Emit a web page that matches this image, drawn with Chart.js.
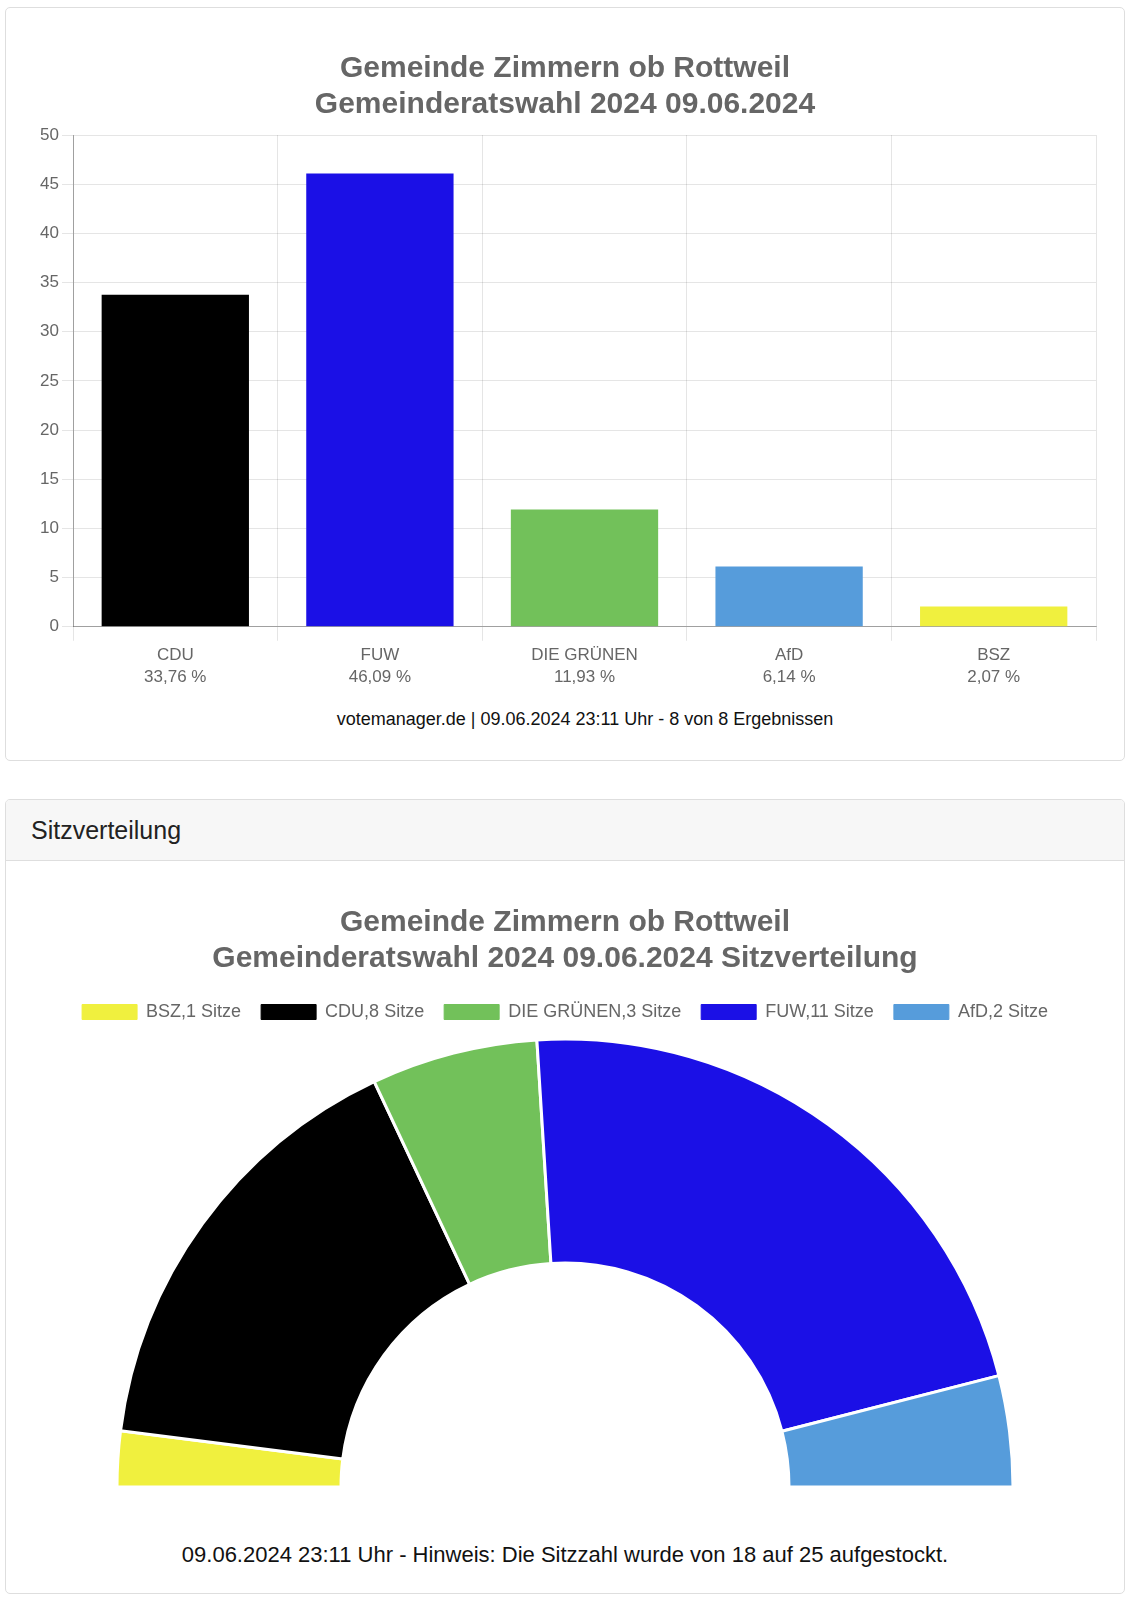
<!DOCTYPE html>
<html><head><meta charset="utf-8">
<script src="https://cdn.jsdelivr.net/npm/chart.js@4.4.1/dist/chart.umd.min.js"></script>
<style>
body{margin:0;background:#fff;font-family:'Liberation Sans',Arial,sans-serif;}
.card{position:absolute;left:5px;width:1118px;border:1px solid #dedede;border-radius:5px;background:#fff;overflow:hidden}
#card1{top:7px;height:752px;}
#card2{top:799px;height:793px;}
.hdr{height:60px;background:#f7f7f7;border-bottom:1px solid #dedede;font-size:25px;color:#222;line-height:60px;padding-left:25px;}
canvas{display:block}
.foot{position:absolute;left:0;width:100%;text-align:center;font-size:18px;line-height:20px;color:#111}
</style></head>
<body>
<div class="card" id="card1">
  <canvas id="bar" width="1118" height="690"></canvas>
  <div class="foot" style="top:701px;left:20px">votemanager.de | 09.06.2024 23:11 Uhr - 8 von 8 Ergebnissen</div>
</div>
<div class="card" id="card2">
  <div class="hdr">Sitzverteilung</div>
  <canvas id="seats" width="1118" height="660"></canvas>
  <div class="foot" style="top:743px;font-size:22px;line-height:24px">09.06.2024 23:11 Uhr - Hinweis: Die Sitzzahl wurde von 18 auf 25 aufgestockt.</div>
</div>
<script>
const barLabels = ['CDU', 'FUW', 'DIE GRÜNEN', 'AfD', 'BSZ'];
const barPercentTexts = ['33,76 %', '46,09 %', '11,93 %', '6,14 %', '2,07 %'];
const barValues = [33.76, 46.09, 11.93, 6.14, 2.07];
const barColors = ['#000000', '#1b10e6', '#72c15a', '#569cdb', '#f0f03e'];
const yMax = 50;
const yStep = 5;

const seatParties = ['BSZ', 'CDU', 'DIE GRÜNEN', 'FUW', 'AfD'];
const seatCounts = [1, 8, 3, 11, 2];
const seatColors = ['#f0f03e', '#000000', '#72c15a', '#1b10e6', '#569cdb'];

const barTitle = ['Gemeinde Zimmern ob Rottweil', 'Gemeinderatswahl 2024 09.06.2024'];
const seatTitle = ['Gemeinde Zimmern ob Rottweil', 'Gemeinderatswahl 2024 09.06.2024 Sitzverteilung'];

Chart.defaults.font.family = "'Liberation Sans', Arial, Helvetica, sans-serif";
Chart.defaults.color = '#666';

new Chart(document.getElementById('bar'), {
  type: 'bar',
  data: {
    labels: barLabels.map((l, i) => [l, barPercentTexts[i]]),
    datasets: [{ data: barValues, backgroundColor: barColors, borderWidth: 0 }]
  },
  options: {
    responsive: false,
    animation: false,
    layout: { padding: { left: 28, right: 28, top: 0, bottom: 7 } },
    plugins: {
      legend: { display: false },
      tooltip: { enabled: false },
      title: {
        display: true, text: barTitle, color: '#666',
        font: { size: 30, weight: 'bold', lineHeight: 1.2 },
        padding: { top: 43, bottom: 12 }
      }
    },
    scales: {
      x: {
        grid: { color: 'rgba(0,0,0,0.1)', tickLength: 14, offset: true },
        border: { color: 'rgba(0,0,0,0.3)' },
        ticks: { color: '#666', font: { size: 17, lineHeight: 1.3 }, padding: 3 }
      },
      y: {
        min: 0, max: yMax,
        afterFit: s => { s.width = 39; },
        grid: { color: 'rgba(0,0,0,0.1)', tickLength: 11 },
        border: { color: 'rgba(0,0,0,0.3)' },
        ticks: { stepSize: yStep, color: '#666', font: { size: 17 }, padding: 3 }
      }
    }
  }
});

new Chart(document.getElementById('seats'), {
  type: 'doughnut',
  data: {
    labels: seatParties.map((p, i) => p + ',' + seatCounts[i] + ' Sitze'),
    datasets: [{ data: seatCounts, backgroundColor: seatColors, borderColor: '#fff', borderWidth: 3 }]
  },
  options: {
    responsive: false,
    animation: false,
    rotation: -90,
    circumference: 180,
    radius: 448,
    cutout: '50%',
    layout: { padding: { bottom: 26 } },
    plugins: {
      tooltip: { enabled: false },
      title: {
        display: true, text: seatTitle, color: '#666',
        font: { size: 30, weight: 'bold', lineHeight: 1.2 },
        padding: { top: 44, bottom: 6 }
      },
      legend: {
        position: 'top',
        labels: {
          boxWidth: 55, boxHeight: 15, padding: 20, color: '#666',
          font: { size: 18 },
          generateLabels: chart => {
            const items = Chart.overrides.doughnut.plugins.legend.labels.generateLabels(chart);
            items.forEach(it => { it.strokeStyle = it.fillStyle; it.lineWidth = 1; });
            return items;
          }
        }
      }
    }
  }
});
</script>
</body></html>
